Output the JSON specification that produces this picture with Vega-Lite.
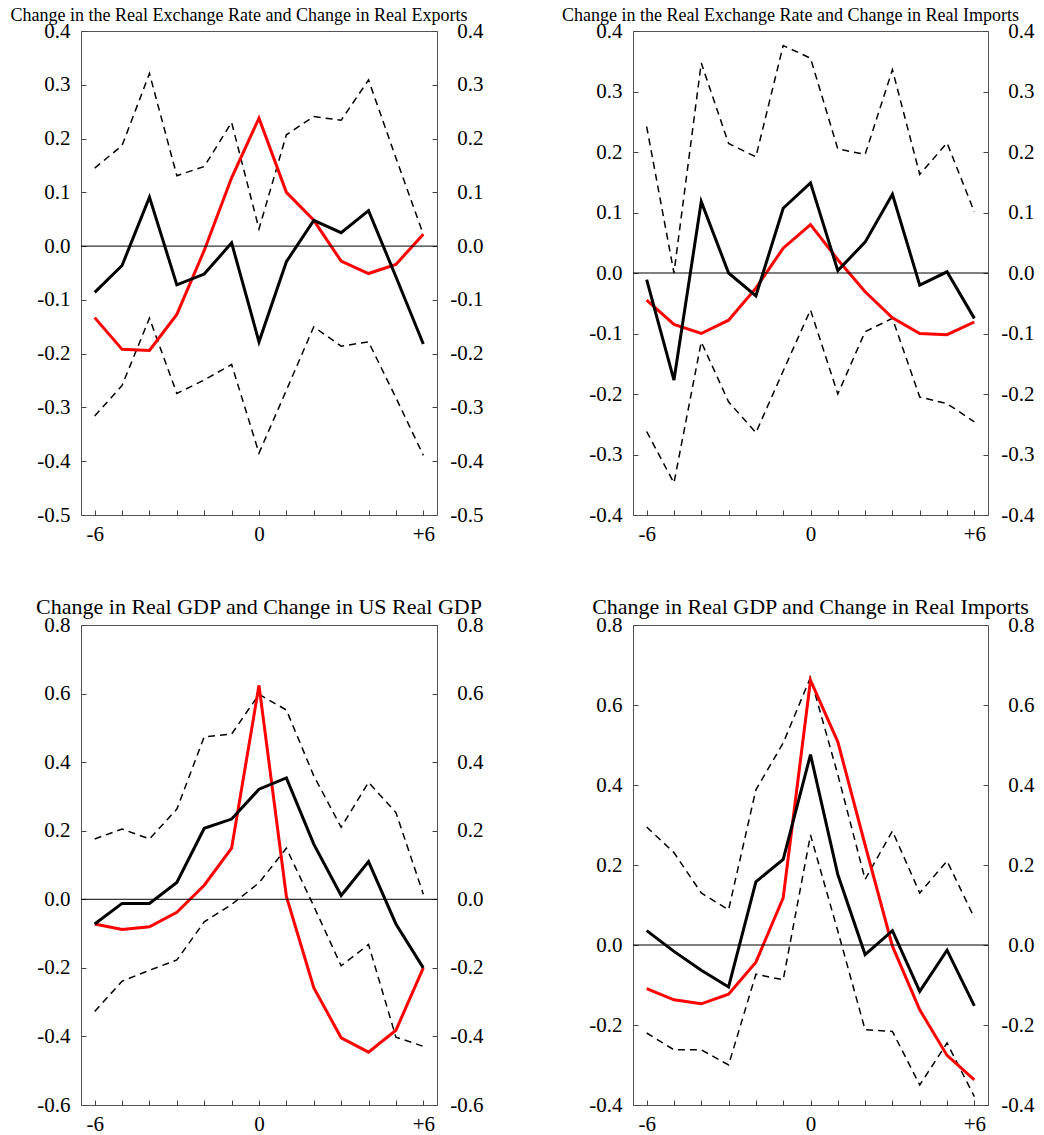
{
  "$schema": "https://vega.github.io/schema/vega-lite/v6.json",
  "background": "white",
  "padding": {"left": 10, "top": 6, "right": 2, "bottom": 2},
  "datasets": {
    "d": [
      {"p":1,"t":-6,"main":-0.086,"red":-0.133,"up":0.145,"lo":-0.316},
      {"p":1,"t":-5,"main":-0.036,"red":-0.192,"up":0.187,"lo":-0.259},
      {"p":1,"t":-4,"main":0.091,"red":-0.194,"up":0.321,"lo":-0.134},
      {"p":1,"t":-3,"main":-0.072,"red":-0.127,"up":0.131,"lo":-0.274},
      {"p":1,"t":-2,"main":-0.052,"red":-0.008,"up":0.148,"lo":-0.249},
      {"p":1,"t":-1,"main":0.006,"red":0.127,"up":0.230,"lo":-0.220},
      {"p":1,"t":0,"main":-0.178,"red":0.238,"up":0.032,"lo":-0.385},
      {"p":1,"t":1,"main":-0.029,"red":0.100,"up":0.207,"lo":-0.268},
      {"p":1,"t":2,"main":0.048,"red":0.048,"up":0.241,"lo":-0.150},
      {"p":1,"t":3,"main":0.025,"red":-0.028,"up":0.234,"lo":-0.186},
      {"p":1,"t":4,"main":0.066,"red":-0.051,"up":0.309,"lo":-0.178},
      {"p":1,"t":5,"main":-0.057,"red":-0.034,"up":0.164,"lo":-0.282},
      {"p":1,"t":6,"main":-0.182,"red":0.022,"up":0.022,"lo":-0.389},
      {"p":2,"t":-6,"main":-0.011,"red":-0.045,"up":0.242,"lo":-0.262},
      {"p":2,"t":-5,"main":-0.177,"red":-0.085,"up":0.000,"lo":-0.347},
      {"p":2,"t":-4,"main":0.118,"red":-0.100,"up":0.347,"lo":-0.114},
      {"p":2,"t":-3,"main":0.000,"red":-0.078,"up":0.214,"lo":-0.213},
      {"p":2,"t":-2,"main":-0.038,"red":-0.025,"up":0.192,"lo":-0.264},
      {"p":2,"t":-1,"main":0.107,"red":0.041,"up":0.376,"lo":-0.162},
      {"p":2,"t":0,"main":0.149,"red":0.080,"up":0.355,"lo":-0.061},
      {"p":2,"t":1,"main":0.004,"red":0.022,"up":0.205,"lo":-0.200},
      {"p":2,"t":2,"main":0.051,"red":-0.031,"up":0.196,"lo":-0.097},
      {"p":2,"t":3,"main":0.130,"red":-0.074,"up":0.336,"lo":-0.075},
      {"p":2,"t":4,"main":-0.020,"red":-0.100,"up":0.163,"lo":-0.205},
      {"p":2,"t":5,"main":0.002,"red":-0.102,"up":0.215,"lo":-0.216},
      {"p":2,"t":6,"main":-0.075,"red":-0.081,"up":0.101,"lo":-0.246},
      {"p":3,"t":-6,"main":-0.072,"red":-0.072,"up":0.176,"lo":-0.327},
      {"p":3,"t":-5,"main":-0.012,"red":-0.088,"up":0.205,"lo":-0.239},
      {"p":3,"t":-4,"main":-0.012,"red":-0.080,"up":0.176,"lo":-0.207},
      {"p":3,"t":-3,"main":0.049,"red":-0.038,"up":0.263,"lo":-0.177},
      {"p":3,"t":-2,"main":0.207,"red":0.041,"up":0.474,"lo":-0.066},
      {"p":3,"t":-1,"main":0.234,"red":0.149,"up":0.482,"lo":-0.015},
      {"p":3,"t":0,"main":0.321,"red":0.624,"up":0.598,"lo":0.048},
      {"p":3,"t":1,"main":0.354,"red":0.008,"up":0.552,"lo":0.149},
      {"p":3,"t":2,"main":0.161,"red":-0.258,"up":0.360,"lo":-0.020},
      {"p":3,"t":3,"main":0.011,"red":-0.404,"up":0.210,"lo":-0.194},
      {"p":3,"t":4,"main":0.110,"red":-0.446,"up":0.341,"lo":-0.132},
      {"p":3,"t":5,"main":-0.072,"red":-0.382,"up":0.253,"lo":-0.402},
      {"p":3,"t":6,"main":-0.200,"red":-0.200,"up":0.015,"lo":-0.429},
      {"p":4,"t":-6,"main":0.036,"red":-0.109,"up":0.295,"lo":-0.220},
      {"p":4,"t":-5,"main":-0.016,"red":-0.137,"up":0.231,"lo":-0.262},
      {"p":4,"t":-4,"main":-0.063,"red":-0.147,"up":0.130,"lo":-0.262},
      {"p":4,"t":-3,"main":-0.105,"red":-0.123,"up":0.088,"lo":-0.300},
      {"p":4,"t":-2,"main":0.158,"red":-0.043,"up":0.388,"lo":-0.073},
      {"p":4,"t":-1,"main":0.214,"red":0.118,"up":0.505,"lo":-0.087},
      {"p":4,"t":0,"main":0.476,"red":0.662,"up":0.669,"lo":0.275},
      {"p":4,"t":1,"main":0.176,"red":0.508,"up":0.426,"lo":0.035},
      {"p":4,"t":2,"main":-0.024,"red":0.250,"up":0.164,"lo":-0.212},
      {"p":4,"t":3,"main":0.036,"red":-0.003,"up":0.285,"lo":-0.216},
      {"p":4,"t":4,"main":-0.116,"red":-0.162,"up":0.130,"lo":-0.350},
      {"p":4,"t":5,"main":-0.013,"red":-0.276,"up":0.210,"lo":-0.245},
      {"p":4,"t":6,"main":-0.152,"red":-0.337,"up":0.068,"lo":-0.379}
    ]
  },
  "columns": 2,
  "spacing": {"row": 110, "column": 196},
  "bounds": "flush",
  "concat": [
    {
      "title": {"text": "Change in the Real Exchange Rate and Change in Real Exports", "fontSize": 18, "dx": -20},
      "width": 356, "height": 484,
      "layer": [
        {
          "data": {"name": "d"},
          "transform": [{"filter": "datum.p == 1"}],
          "encoding": {
            "x": {"field": "t", "type": "quantitative", "scale": {"domain": [-6.5, 6.5], "nice": false, "zero": false},
                  "axis": {"title": null, "values": [-6,-5,-4,-3,-2,-1,0,1,2,3,4,5,6], "labelExpr": "datum.value == 6 ? '+6' : datum.value == -6 ? '-6' : datum.value == 0 ? '0' : ''"}}
          },
          "layer": [
            {"mark": {"type": "line", "color": "#000", "strokeWidth": 1.5, "strokeDash": [7, 5]},
             "encoding": {"y": {"field": "lo", "type": "quantitative", "scale": {"domain": [-0.5, 0.4], "nice": false, "zero": false},
               "axis": {"orient": "left", "title": null, "values": [-0.5,-0.4,-0.3,-0.2,-0.1,0,0.1,0.2,0.3,0.4], "labelExpr": "replace(format(datum.value, '.1f'), '−', '-')"}}}},
            {"mark": {"type": "line", "color": "#000", "strokeWidth": 1.5, "strokeDash": [7, 5]},
             "encoding": {"y": {"field": "up", "type": "quantitative"}}},
            {"mark": {"type": "line", "color": "#ff0000", "strokeWidth": 3},
             "encoding": {"y": {"field": "red", "type": "quantitative"}}},
            {"mark": {"type": "line", "color": "#000", "strokeWidth": 3},
             "encoding": {"y": {"field": "main", "type": "quantitative"}}}
          ]
        },
        {
          "data": {"values": [{"z": 0}]},
          "mark": {"type": "rule", "color": "#000", "strokeWidth": 1},
          "encoding": {"y": {"field": "z", "type": "quantitative", "scale": {"domain": [-0.5, 0.4], "nice": false, "zero": false},
            "axis": {"orient": "right", "title": null, "labelPadding": 51, "labelAlign": "right", "values": [-0.5,-0.4,-0.3,-0.2,-0.1,0,0.1,0.2,0.3,0.4], "labelExpr": "replace(format(datum.value, '.1f'), '−', '-')"}}}
        }
      ],
      "resolve": {"scale": {"y": "independent"}}
    },
    {
      "title": {"text": "Change in the Real Exchange Rate and Change in Real Imports", "fontSize": 18, "dx": -20},
      "width": 355, "height": 484,
      "layer": [
        {
          "data": {"name": "d"},
          "transform": [{"filter": "datum.p == 2"}],
          "encoding": {
            "x": {"field": "t", "type": "quantitative", "scale": {"domain": [-6.5, 6.5], "nice": false, "zero": false},
                  "axis": {"title": null, "values": [-6,-5,-4,-3,-2,-1,0,1,2,3,4,5,6], "labelExpr": "datum.value == 6 ? '+6' : datum.value == -6 ? '-6' : datum.value == 0 ? '0' : ''"}}
          },
          "layer": [
            {"mark": {"type": "line", "color": "#000", "strokeWidth": 1.5, "strokeDash": [7, 5]},
             "encoding": {"y": {"field": "lo", "type": "quantitative", "scale": {"domain": [-0.4, 0.4], "nice": false, "zero": false},
               "axis": {"orient": "left", "title": null, "values": [-0.4,-0.3,-0.2,-0.1,0,0.1,0.2,0.3,0.4], "labelExpr": "replace(format(datum.value, '.1f'), '−', '-')"}}}},
            {"mark": {"type": "line", "color": "#000", "strokeWidth": 1.5, "strokeDash": [7, 5]},
             "encoding": {"y": {"field": "up", "type": "quantitative"}}},
            {"mark": {"type": "line", "color": "#ff0000", "strokeWidth": 3},
             "encoding": {"y": {"field": "red", "type": "quantitative"}}},
            {"mark": {"type": "line", "color": "#000", "strokeWidth": 3},
             "encoding": {"y": {"field": "main", "type": "quantitative"}}}
          ]
        },
        {
          "data": {"values": [{"z": 0}]},
          "mark": {"type": "rule", "color": "#000", "strokeWidth": 1},
          "encoding": {"y": {"field": "z", "type": "quantitative", "scale": {"domain": [-0.4, 0.4], "nice": false, "zero": false},
            "axis": {"orient": "right", "title": null, "labelPadding": 51, "labelAlign": "right", "values": [-0.4,-0.3,-0.2,-0.1,0,0.1,0.2,0.3,0.4], "labelExpr": "replace(format(datum.value, '.1f'), '−', '-')"}}}
        }
      ],
      "resolve": {"scale": {"y": "independent"}}
    },
    {
      "title": {"text": "Change in Real GDP and Change in US Real GDP", "fontSize": 22},
      "width": 356, "height": 480,
      "layer": [
        {
          "data": {"name": "d"},
          "transform": [{"filter": "datum.p == 3"}],
          "encoding": {
            "x": {"field": "t", "type": "quantitative", "scale": {"domain": [-6.5, 6.5], "nice": false, "zero": false},
                  "axis": {"title": null, "values": [-6,-5,-4,-3,-2,-1,0,1,2,3,4,5,6], "labelExpr": "datum.value == 6 ? '+6' : datum.value == -6 ? '-6' : datum.value == 0 ? '0' : ''"}}
          },
          "layer": [
            {"mark": {"type": "line", "color": "#000", "strokeWidth": 1.5, "strokeDash": [7, 5]},
             "encoding": {"y": {"field": "lo", "type": "quantitative", "scale": {"domain": [-0.6, 0.8], "nice": false, "zero": false},
               "axis": {"orient": "left", "title": null, "values": [-0.6,-0.4,-0.2,0,0.2,0.4,0.6,0.8], "labelExpr": "replace(format(datum.value, '.1f'), '−', '-')"}}}},
            {"mark": {"type": "line", "color": "#000", "strokeWidth": 1.5, "strokeDash": [7, 5]},
             "encoding": {"y": {"field": "up", "type": "quantitative"}}},
            {"mark": {"type": "line", "color": "#ff0000", "strokeWidth": 3},
             "encoding": {"y": {"field": "red", "type": "quantitative"}}},
            {"mark": {"type": "line", "color": "#000", "strokeWidth": 3},
             "encoding": {"y": {"field": "main", "type": "quantitative"}}}
          ]
        },
        {
          "data": {"values": [{"z": 0}]},
          "mark": {"type": "rule", "color": "#000", "strokeWidth": 1},
          "encoding": {"y": {"field": "z", "type": "quantitative", "scale": {"domain": [-0.6, 0.8], "nice": false, "zero": false},
            "axis": {"orient": "right", "title": null, "labelPadding": 51, "labelAlign": "right", "values": [-0.6,-0.4,-0.2,0,0.2,0.4,0.6,0.8], "labelExpr": "replace(format(datum.value, '.1f'), '−', '-')"}}}
        }
      ],
      "resolve": {"scale": {"y": "independent"}}
    },
    {
      "title": {"text": "Change in Real GDP and Change in Real Imports", "fontSize": 22},
      "width": 355, "height": 480,
      "layer": [
        {
          "data": {"name": "d"},
          "transform": [{"filter": "datum.p == 4"}],
          "encoding": {
            "x": {"field": "t", "type": "quantitative", "scale": {"domain": [-6.5, 6.5], "nice": false, "zero": false},
                  "axis": {"title": null, "values": [-6,-5,-4,-3,-2,-1,0,1,2,3,4,5,6], "labelExpr": "datum.value == 6 ? '+6' : datum.value == -6 ? '-6' : datum.value == 0 ? '0' : ''"}}
          },
          "layer": [
            {"mark": {"type": "line", "color": "#000", "strokeWidth": 1.5, "strokeDash": [7, 5]},
             "encoding": {"y": {"field": "lo", "type": "quantitative", "scale": {"domain": [-0.4, 0.8], "nice": false, "zero": false},
               "axis": {"orient": "left", "title": null, "values": [-0.4,-0.2,0,0.2,0.4,0.6,0.8], "labelExpr": "replace(format(datum.value, '.1f'), '−', '-')"}}}},
            {"mark": {"type": "line", "color": "#000", "strokeWidth": 1.5, "strokeDash": [7, 5]},
             "encoding": {"y": {"field": "up", "type": "quantitative"}}},
            {"mark": {"type": "line", "color": "#ff0000", "strokeWidth": 3},
             "encoding": {"y": {"field": "red", "type": "quantitative"}}},
            {"mark": {"type": "line", "color": "#000", "strokeWidth": 3},
             "encoding": {"y": {"field": "main", "type": "quantitative"}}}
          ]
        },
        {
          "data": {"values": [{"z": 0}]},
          "mark": {"type": "rule", "color": "#000", "strokeWidth": 1},
          "encoding": {"y": {"field": "z", "type": "quantitative", "scale": {"domain": [-0.4, 0.8], "nice": false, "zero": false},
            "axis": {"orient": "right", "title": null, "labelPadding": 51, "labelAlign": "right", "values": [-0.4,-0.2,0,0.2,0.4,0.6,0.8], "labelExpr": "replace(format(datum.value, '.1f'), '−', '-')"}}}
        }
      ],
      "resolve": {"scale": {"y": "independent"}}
    }
  ],
  "config": {
    "font": "Liberation Serif",
    "view": {"stroke": "#555", "strokeWidth": 1},
    "title": {"font": "Liberation Serif", "fontWeight": "normal", "color": "#000", "anchor": "middle", "baseline": "alphabetic", "offset": -5},
    "axis": {"grid": false, "domain": false, "tickSize": -5, "tickColor": "#444", "labelFont": "Liberation Serif", "labelFontSize": 21, "labelColor": "#000", "labelPadding": 16, "labelFlush": false, "labelOverlap": false},
    "axisX": {"labelPadding": 13}
  }
}
